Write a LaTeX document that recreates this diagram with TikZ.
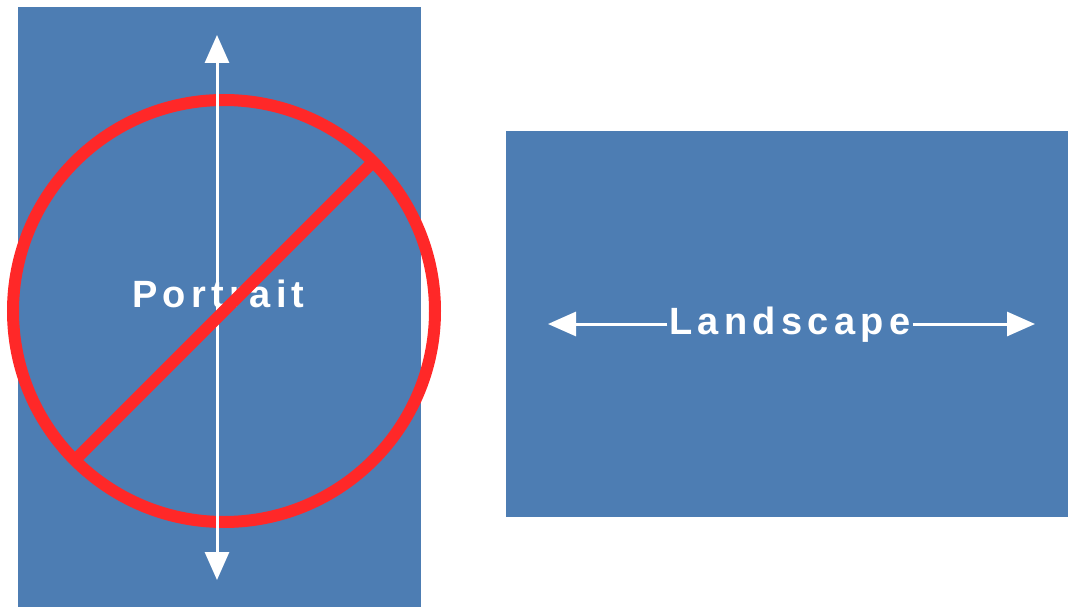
\documentclass[tikz,border=0pt]{standalone}
\usepackage{fontspec}
\setmainfont{Liberation Sans}
\newfontfamily\labelfont[LetterSpace=14]{Liberation Sans Bold}
\usepackage{tikz}
\usetikzlibrary{arrows.meta, calc, positioning}

\definecolor{sheetblue}{RGB}{77,125,179}
\definecolor{forbidred}{RGB}{255,40,40}

\begin{document}
\begin{tikzpicture}[x=1pt, y=-1pt,
            sheet/.style={fill=sheetblue, draw=none, inner sep=0pt},
            caption/.style={text=white, font=\labelfont\fontsize{38}{44}\selectfont, inner sep=2pt, anchor=base},
            orient/.style={white, line width=3pt, -{Triangle[length=28pt, width=24pt]}},
            bothways/.style={white, line width=3pt, {Triangle[length=28pt, width=24pt]}-{Triangle[length=28pt, width=24pt]}},
            forbid/.style={forbidred, line width=12pt},
        ]
        \useasboundingbox (0,0) rectangle (1068,607);

        \node[sheet, minimum width=403pt, minimum height=600pt] (portrait) at (219.5,307) {};
        \node[sheet, minimum width=562pt, minimum height=386pt] (landscape) at (787,324) {};

        % red ring behind the arrow
        \coordinate (ring) at (224,311);
        \draw[forbid] (ring) circle[radius=211pt];

        \coordinate (ptop) at (217,35);
        \coordinate (pbot) at (217,580);
        \draw[bothways] (ptop) -- (pbot);
        \node[caption] (ptext) at (218.5,307) {Portrait};

        \node[caption] (ltext) at (790,334) {Landscape};
        \coordinate (lleft) at (548,324);
        \coordinate (lright) at (1035,324);
        \draw[orient] (ltext.west |- lleft) -- (lleft);
        \draw[orient] (ltext.east |- lright) -- (lright);

        % slash over everything
        \draw[forbid] ($(ring)+(45:211pt)$) -- ($(ring)+(225:211pt)$);

    \end{tikzpicture}
\end{document}
